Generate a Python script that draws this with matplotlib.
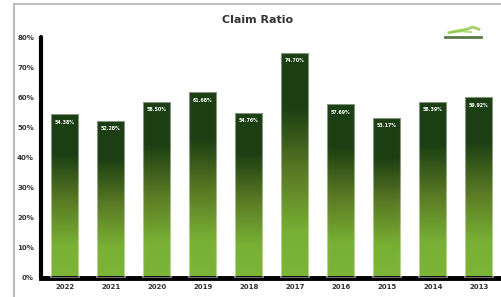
import numpy as np
import matplotlib.pyplot as plt
from matplotlib.colors import LinearSegmentedColormap
from matplotlib.patches import Rectangle

years = ['2022', '2021', '2020', '2019', '2018', '2017', '2016', '2015', '2014', '2013']
ratios = [54.38, 52.28, 58.50, 61.68, 54.76, 74.70, 57.69, 53.17, 58.39, 59.92]
yticks = [0, 10, 20, 30, 40, 50, 60, 70, 80]

# gradient: light green at bottom -> dark green at top
cmap = LinearSegmentedColormap.from_list(
    'grn', [(0.0, '#7db537'), (0.2, '#78b034'), (0.47, '#5a7a24'),
            (0.75, '#1c4013'), (1.0, '#1b3e12')])

fig = plt.figure(figsize=(5.02, 2.97), dpi=100)
fig.patches.append(Rectangle((14/502, -0.1), 1.0, (297-4)/297 + 0.1,
                             transform=fig.transFigure, fill=False,
                             edgecolor='#bdbdbd', linewidth=1.5))

ax = fig.add_axes([41/502, 19/297, 1 - 41/502, (278-37)/297])

w = 0.6
grad = np.linspace(0, 1, 256).reshape(-1, 1)
for i, v in enumerate(ratios):
    rect = Rectangle((i - w/2, 0), w, v, facecolor='none',
                     edgecolor=(1, 1, 1, 0.45), linewidth=1.5, zorder=3)
    ax.add_patch(rect)
    im = ax.imshow(grad, cmap=cmap, origin='lower', aspect='auto',
                   extent=(i - w/2, i + w/2, 0, v), zorder=2)
    im.set_clip_path(rect)
    ax.text(i, v - 2.6, f'{v:.2f}%', color='white', fontsize=3.4,
            fontweight='bold', ha='center', va='center', zorder=4)

ax.set_xlim(-0.52, 9.5)
ax.set_ylim(0, 80)
ax.set_xticks(range(len(years)))
ax.set_xticklabels(years)
ax.set_yticks(yticks)
ax.set_yticklabels([f'{t}%' for t in yticks])
ax.tick_params(length=0, labelsize=5, colors='#333333')
ax.tick_params(axis='y', pad=5)
ax.tick_params(axis='x', pad=4)
for lab in ax.get_xticklabels() + ax.get_yticklabels():
    lab.set_fontweight('bold')

for s in ['top', 'right']:
    ax.spines[s].set_visible(False)
ax.spines['left'].set_linewidth(3)
ax.spines['bottom'].set_linewidth(3.5)
ax.spines['left'].set_capstyle('round')

fig.text(258/502, 1 - 20/297, 'Claim Ratio', ha='center', va='center',
         fontsize=8, fontweight='bold', color='#333333')

# small logo mark, top right
logo = fig.add_axes([443/502, 1 - 39/297, 40/502, 14/297])
logo.plot([0.15, 0.4, 0.6, 0.75, 0.9], [0.45, 0.6, 0.7, 0.85, 0.7],
          color='#8cc63f', lw=2, alpha=0.8)
logo.plot([0.2, 0.5, 0.7], [0.5, 0.55, 0.5], color='#8cc63f', lw=1.5, alpha=0.6)
logo.plot([0.05, 0.95], [0.15, 0.15], color='#2f5a1a', lw=2, alpha=0.8)
logo.set_xlim(0, 1)
logo.set_ylim(0, 1)
logo.axis('off')

fig.savefig('out.png', dpi=100)
